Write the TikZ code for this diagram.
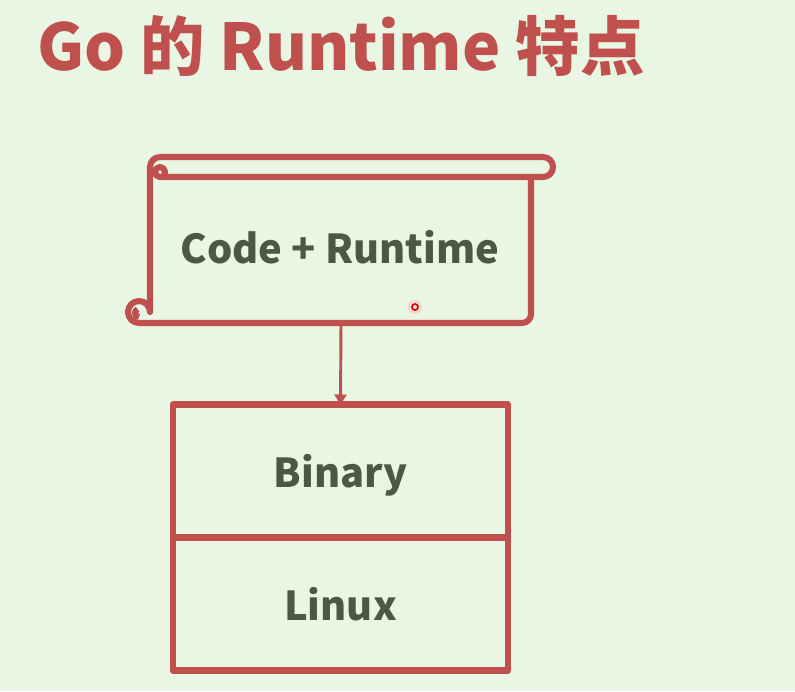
\documentclass[tikz,border=0pt]{standalone}
\usepackage{fontspec}
\setmainfont{Noto Sans CJK SC}
\usetikzlibrary{positioning,arrows.meta}
\definecolor{slidered}{HTML}{C0504D}
\definecolor{textgreen}{HTML}{4A5943}
\definecolor{slidebg}{HTML}{E8F6E3}
\begin{document}
\begin{tikzpicture}[x=0.03cm, y=-0.03cm,
    redline/.style={draw=slidered, line width=5.2pt, line join=round, line cap=round},
    label text/.style={text=textgreen, font=\fontsize{34}{40}\selectfont\bfseries},
    layer/.style={redline, label text, minimum width=10.05cm, minimum height=3.99cm,
        inner sep=0pt, outer sep=0pt, text depth=0pt}]
    % slide background
    \fill[slidebg] (0,0) rectangle (795,691);
    % title
    \node[anchor=base west, inner sep=0pt, text=slidered, font=\fontsize{55}{60}\selectfont\bfseries]
        (title) at (37,70) {Go 的 Runtime 特点};
    % scroll with the source
    \draw[redline] (522,323) -- (139,323) arc[start angle=90, end angle=360, radius=11]
        -- (150,167) arc[start angle=180, end angle=270, radius=10]
        -- (543,157) arc[start angle=270, end angle=450, radius=10]
        -- (160,177) arc[start angle=90, end angle=400, radius=5];
    \draw[redline] (531,177) -- (531,314) arc[start angle=0, end angle=90, radius=9];
    \draw[redline, line cap=butt] (139,317) arc[start angle=90, end angle=250, radius=4];
    \coordinate (scrollbot) at (341,323);
    \node[label text] (code) at (340,247) {Code + Runtime};
    % pointer dot
    \fill[red!25, opacity=0.6] (415,307) circle[radius=7];
    \draw[red!85!black, line width=1.4pt, fill=slidebg] (415,307) circle[radius=3];
    % layers
    \node[layer] (binary) at (340.5,471) {Binary};
    \node[layer, below=0pt of binary] (linux) {Linux};
    \draw[slidered, line width=2.5pt, -{Triangle[width=3.6mm, length=3mm]}] (scrollbot) -- (binary.north);
\end{tikzpicture}
\end{document}
